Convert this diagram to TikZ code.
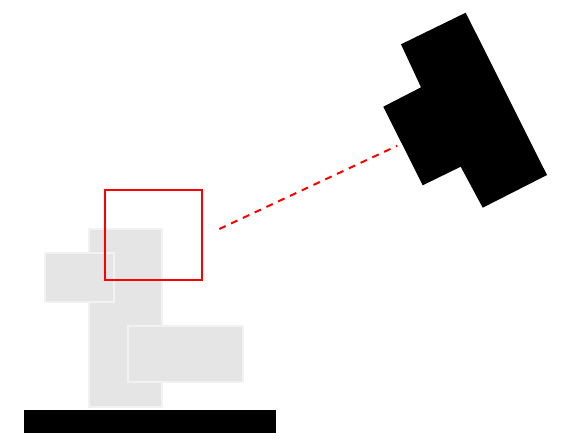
\documentclass[tikz,border=0pt]{standalone}
\begin{document}
\begin{tikzpicture}[x=1pt,y=-1pt,
  grayblock/.style={fill={rgb,255:red,229;green,229;blue,229},draw={rgb,255:red,242;green,242;blue,242},line width=2pt},
  focus/.style={draw=red,line width=2pt},
  sight/.style={draw=red,line width=2pt,dash pattern=on 7pt off 6pt}]
\useasboundingbox (0,0) rectangle (564,440);
% base bar
\fill[black] (24,410) rectangle (276,433);
% gray blocks
\path[grayblock] (88.5,229) rectangle (162,406.5);
\path[grayblock] (45,252.5) rectangle (114,301.5);
\path[grayblock] (128,326) rectangle (242.5,381.5);
% red frame
\draw[focus] (105,190) rectangle (201.5,280);
% black object
\fill[black] (465.7,12.7) -- (547,175) -- (482.7,207.7) -- (460.7,166.7) -- (422.7,185.3) -- (383.3,106.7) -- (421,87.3) -- (401,44.3) -- cycle;
% dashed line of sight
\coordinate (s) at (219.3,229);
\coordinate (t) at (397.3,145.7);
\draw[sight] (s) -- (t);
\end{tikzpicture}
\end{document}
